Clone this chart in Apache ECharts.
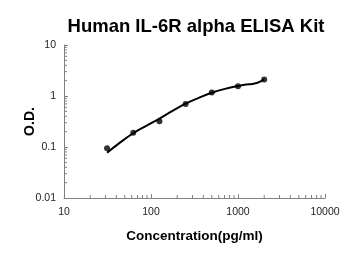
<!DOCTYPE html>
<html><head><meta charset="utf-8">
<script src="https://cdn.jsdelivr.net/npm/echarts@6/dist/echarts.min.js"></script>
<style>html,body{margin:0;padding:0;background:#fff}#c{width:350px;height:255px}</style>
</head><body><div id="c"></div>
<script>
const titleText = 'Human IL-6R alpha ELISA Kit';
const xName = 'Concentration(pg/ml)';
const yName = 'O.D.';
const concentrations = [31.25, 62.5, 125, 250, 500, 1000, 2000];
const odValues = [0.095, 0.19, 0.32, 0.70, 1.17, 1.55, 2.1];
const curveX = [31.25, 44, 62.5, 88, 125, 177, 250, 354, 500, 707, 1000, 1250, 1450, 1700, 2000];
const curveY = [0.077, 0.122, 0.186, 0.26, 0.36, 0.51, 0.706, 0.92, 1.16, 1.38, 1.57, 1.68, 1.72, 1.84, 2.12];
const xMinorTicks = [20,30,40,50,60,70,80,90,200,300,400,500,600,700,800,900,2000,3000,4000,5000,6000,7000,8000,9000];
const yMinorTicks = [0.02,0.03,0.04,0.05,0.06,0.07,0.08,0.09,0.2,0.3,0.4,0.5,0.6,0.7,0.8,0.9,2,3,4,5,6,7,8,9];

const axisColor = '#808080';
const font = 'Liberation Sans, Arial, sans-serif';
const chart = echarts.init(document.getElementById('c'));
chart.setOption({
  animation: false,
  title: {text: titleText, left: 191, top: 12, textAlign: 'center',
    textStyle: {fontFamily: font, fontWeight: 'bold', fontSize: 18.5, color: '#000'}},
  grid: {left: 64, right: 25, top: 45, bottom: 57},
  xAxis: {type: 'log', logBase: 10, min: 10, max: 10000,
    name: xName, nameLocation: 'middle', nameGap: 31,
    nameTextStyle: {fontFamily: font, fontWeight: 'bold', fontSize: 13.5, color: '#000'},
    axisLine: {lineStyle: {color: axisColor, width: 1}},
    axisTick: {inside: true, length: 4, lineStyle: {color: axisColor}},
    axisLabel: {fontFamily: font, fontSize: 10.5, color: '#222', margin: 9,
      formatter: v => String(v)},
    splitLine: {show: false}},
  yAxis: {type: 'log', logBase: 10, min: 0.01, max: 10,
    name: yName, nameLocation: 'middle', nameGap: 27, nameRotate: 90, nameMoveOverlap: false,
    nameTextStyle: {fontFamily: font, fontWeight: 'bold', fontSize: 14, color: '#000'},
    axisLine: {show: true, lineStyle: {color: axisColor, width: 1}},
    axisTick: {show: true, inside: true, length: 4, lineStyle: {color: axisColor}},
    axisLabel: {fontFamily: font, fontSize: 10.5, color: '#222', margin: 8,
      formatter: v => String(v)},
    splitLine: {show: false}},
  series: [
    {type: 'custom', silent: true, clip: false, data: xMinorTicks.map(v => [v, 0.01]),
      renderItem: (params, api) => {
        const p = api.coord([api.value(0), api.value(1)]);
        return {type: 'line', shape: {x1: p[0], y1: p[1], x2: p[0], y2: p[1] - 3},
          style: {stroke: axisColor, lineWidth: 1}};
      }},
    {type: 'custom', silent: true, clip: false, data: yMinorTicks.map(v => [10, v]),
      renderItem: (params, api) => {
        const p = api.coord([api.value(0), api.value(1)]);
        return {type: 'line', shape: {x1: p[0], y1: p[1], x2: p[0] + 3, y2: p[1]},
          style: {stroke: axisColor, lineWidth: 1}};
      }},
    {type: 'line', data: curveX.map((x, i) => [x, curveY[i]]), smooth: true,
      showSymbol: false, lineStyle: {color: '#000', width: 2}},
    {type: 'scatter', data: concentrations.map((x, i) => [x, odValues[i]]),
      symbolSize: 6, itemStyle: {color: '#000'}}
  ]
});
</script></body></html>
